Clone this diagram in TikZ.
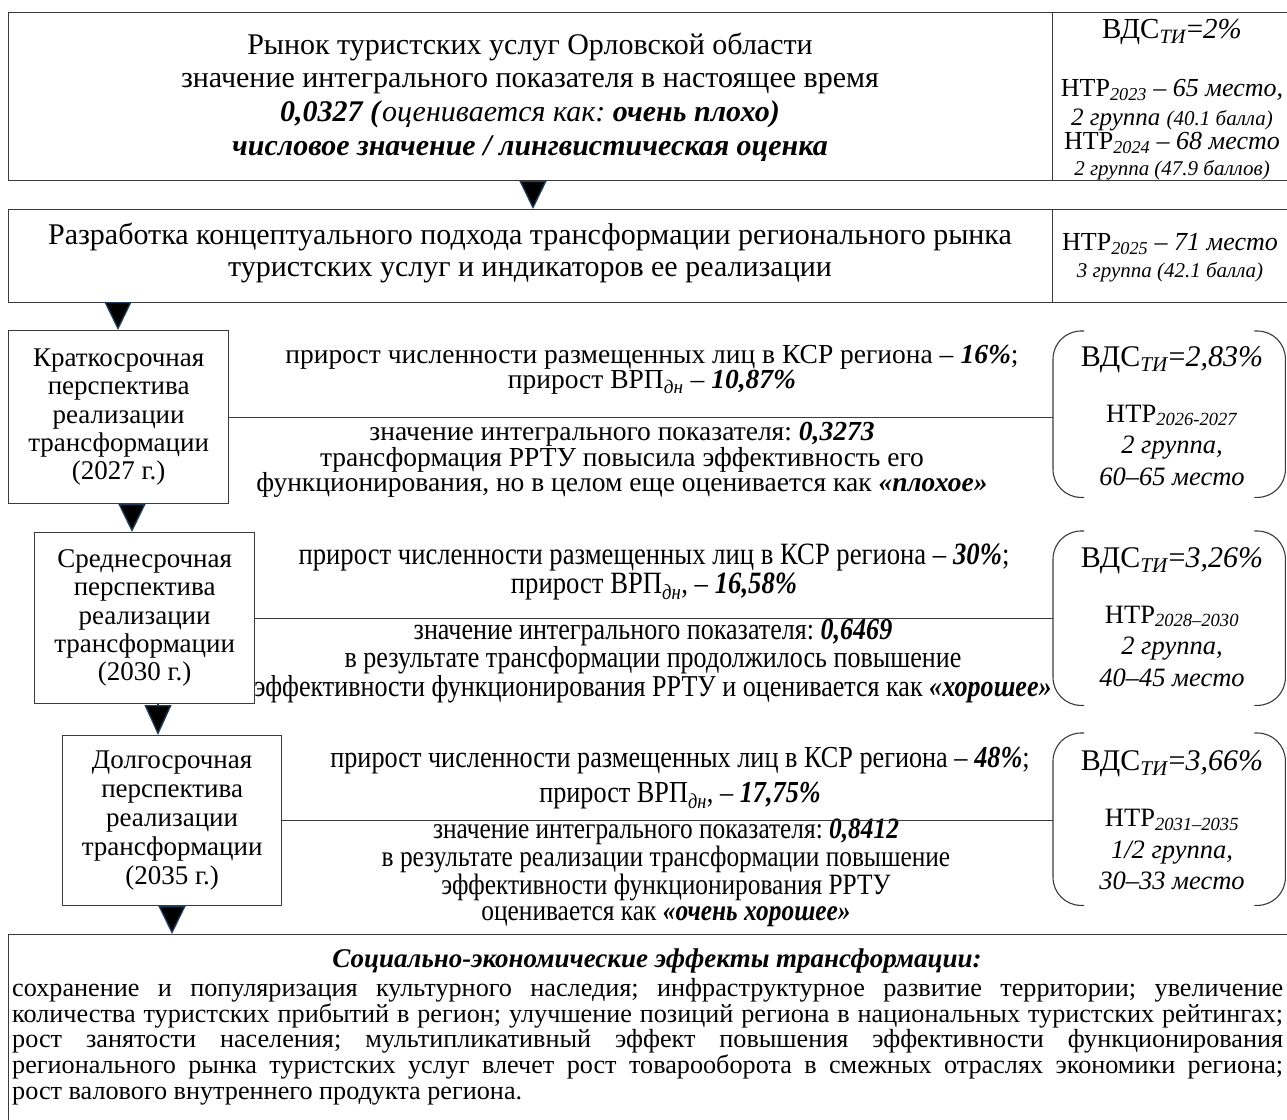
\documentclass[tikz,border=0pt]{standalone}
\usepackage{fontspec}
\setmainfont{Liberation Serif}
\newfontfamily\condfont{Liberation Serif}[FakeStretch=0.86]
\usetikzlibrary{arrows.meta,calc}
\definecolor{boxgray}{HTML}{3A3A3A}
\definecolor{trinavy}{HTML}{1F3A57}
\newcommand{\bi}[1]{\textbf{\textit{#1}}}
\newcommand{\sbi}[1]{\textsubscript{\textit{#1}}}
\newcommand{\fs}[2]{\fontsize{#1}{#2}\selectfont}
\frenchspacing
\begin{document}
\begin{tikzpicture}[x=1pt,y=-1pt,
  box/.style={draw=boxgray,line width=1.3pt,inner sep=0pt,anchor=north west},
  txt/.style={inner sep=0pt,align=center},
  tri/.style={draw=trinavy,line width=1.4pt,-{Triangle[width=27pt,length=#1,fill=black]}},
  link/.style={draw=boxgray,line width=1.3pt},
  brk/.style={draw=boxgray,line width=1.1pt,rounded corners=28pt}]
\useasboundingbox (0,0) rectangle (1287,1119);
\hyphenpenalty=10000
% ---------- top box
\node[box,minimum width=1044pt,minimum height=168pt] (b1) at (8,12) {};
\node[box,minimum width=240pt,minimum height=168pt] (b1r) at (1052,12) {};
\node[txt,font=\fs{30}{33.6}] (b1t) at (530,97) {Рынок туристских услуг Орловской области\\
значение интегрального показателя в настоящее время\\
\bi{0,0327 (}\textit{оценивается как:} \bi{очень плохо)}\\
\bi{числовое значение / лингвистическая оценка}};
\node[txt,font=\fs{26}{26}] (b1rt) at (1172,100) {{\fs{29}{26}ВДС\sbi{ТИ}=\textit{2\%}}\\[32pt]
НТР\sbi{2023} – \textit{65 место,}\\[3pt]
{\itshape\fs{25}{26}2 группа {\fs{21}{26}(40.1 балла)}}\\[-2pt]
НТР\sbi{2024} – \textit{68 место}\\
{\fs{21}{26}\itshape 2 группа (47.9 баллов)}};
% ---------- second box
\node[box,minimum width=1044pt,minimum height=93pt] (b2) at (8,209) {};
\node[box,minimum width=240pt,minimum height=93pt] (b2r) at (1052,209) {};
\node[txt,font=\fs{30}{32}] (b2t) at (530,253) {Разработка концептуального подхода трансформации регионального рынка\\
туристских услуг и индикаторов ее реализации};
\node[txt,font=\fs{26}{27}] (b2rt) at (1170,258) {НТР\sbi{2025} – \textit{71 место}\\
{\fs{21}{27}\itshape 3 группа (42.1 балла)}};
% ---------- stage boxes
\node[box,minimum width=220pt,minimum height=173pt] (b3) at (8,330) {};
\node[txt,font=\fs{27}{28.3}] (b3t) at (b3.center) {Краткосрочная\\перспектива\\реализации\\трансформации\\(2027 г.)};
\node[box,minimum width=220pt,minimum height=171pt] (b4) at (34,532) {};
\node[txt,font=\fs{27}{28.3}] (b4t) at (b4.center) {Среднесрочная\\перспектива\\реализации\\трансформации\\(2030 г.)};
\node[box,minimum width=219pt,minimum height=170pt] (b5) at (62,735) {};
\node[txt,font=\fs{27}{29}] (b5t) at (b5.center) {Долгосрочная\\перспектива\\реализации\\трансформации\\(2035 г.)};
% ---------- bottom box
\node[box,minimum width=1290pt,minimum height=200pt] (b6) at (8,934) {};
\node[txt,font=\fs{27}{26}\bfseries\itshape] (b6h) at (657,961) {Социально-экономические эффекты трансформации:};
\node[inner sep=0pt,anchor=north west,text width=1271pt,align=justify,font=\fs{26.2}{25.8}] (b6t) at (12,978)
{сохранение и популяризация культурного наследия; инфраструктурное развитие территории; увеличение\linebreak
количества туристских прибытий в регион; улучшение позиций региона в национальных туристских рейтингах;\linebreak
рост занятости населения; мультипликативный эффект повышения эффективности функционирования\linebreak
регионального рынка туристских услуг влечет рост товарооборота в смежных отраслях экономики региона;\linebreak
рост валового внутреннего продукта региона.};
% ---------- brackets
\node[inner sep=0pt,anchor=north west,minimum width=232pt,minimum height=166pt] (r3) at (1053,331) {};
\node[inner sep=0pt,anchor=north west,minimum width=232pt,minimum height=174pt] (r4) at (1053,531) {};
\node[inner sep=0pt,anchor=north west,minimum width=232pt,minimum height=172pt] (r5) at (1053,733) {};
\foreach \r in {r3,r4,r5}{
  \draw[brk] ($(\r.north west)+(31,0)$) -- (\r.north west) -- (\r.south west) -- ($(\r.south west)+(31,0)$);
  \draw[brk] ($(\r.north east)+(-31,0)$) -- (\r.north east) -- (\r.south east) -- ($(\r.south east)+(-31,0)$);
}
\node[txt,font=\fs{26.5}{31.5}] (r3t) at (1172,416) {{\fs{30}{30}ВДС\sbi{ТИ}=\textit{2,83\%}}\\[24pt]
НТР\sbi{2026-2027}\\\textit{2 группа,}\\\textit{60–65 место}};
\node[txt,font=\fs{26.5}{31.5}] (r4t) at (1172,617) {{\fs{30}{30}ВДС\sbi{ТИ}=\textit{3,26\%}}\\[24pt]
НТР\sbi{2028–2030}\\\textit{2 группа,}\\\textit{40–45 место}};
\node[txt,font=\fs{26.5}{31.5}] (r5t) at (1172,820) {{\fs{30}{30}ВДС\sbi{ТИ}=\textit{3,66\%}}\\[25pt]
НТР\sbi{2031–2035}\\\textit{1/2 группа,}\\\textit{30–33 место}};
% ---------- middle texts
\node[txt,font=\fs{27.5}{25.5}] (m3a) at (652,370) {прирост численности размещенных лиц в КСР региона – \bi{16\%};\\
прирост ВРП\sbi{дн} – \bi{10,87\%}};
\node[txt,font=\fs{27.5}{25.6}] (m3b) at (622,460) {значение интегрального показателя: \bi{0,3273}\\
трансформация РРТУ повысила эффективность его\\
функционирования, но в целом еще оценивается как \bi{«плохое»}};
\node[txt,font=\condfont\fs{31}{25.5}] (m4a) at (654,572) {прирост численности размещенных лиц в КСР региона – \bi{30\%};\\
прирост ВРП\sbi{дн}, – \bi{16,58\%}};
\node[txt,font=\condfont\fs{30.3}{26}] (m4b) at (653,661) {значение интегрального показателя: \bi{0,6469}\\
в результате трансформации продолжилось повышение\\
эффективности функционирования РРТУ и оценивается как \bi{«хорошее»}};
\node[txt,font=\condfont\fs{30.5}{35}] (m5a) at (680,778) {прирост численности размещенных лиц в КСР региона – \bi{48\%};\\
прирост ВРП\sbi{дн}, – \bi{17,75\%}};
\node[txt,font=\condfont\fs{29.5}{26.4}] (m5b) at (666,873) {значение интегрального показателя: \bi{0,8412}\\
в результате реализации трансформации повышение\\
эффективности функционирования РРТУ\\
оценивается как \bi{«очень хорошее»}};
% ---------- connectors
\draw[link] (b3.east) -- (b3.east -| r3.west);
\draw[link] (b4.east) -- (b4.east -| r4.west);
\draw[link] (b5.east) -- (b5.east -| r5.west);
\draw[tri=28pt] ($(b1.south west)+(525,0)$) -- ($(b2.north west)+(525,0)$);
\draw[tri=28pt] ($(b2.south west)+(110,0)$) -- ($(b3.north west)+(110,0)$);
\draw[tri=28pt] ($(b3.south west)+(124,0)$) -- ($(b4.north west)+(98,0)$);
\draw[tri=30pt] ($(b4.south west)+(124,0)$) -- ($(b5.north west)+(96,0)$);
\draw[tri=28pt] ($(b5.south west)+(110,0)$) -- ($(b6.north west)+(164,0)$);
\end{tikzpicture}
\end{document}
